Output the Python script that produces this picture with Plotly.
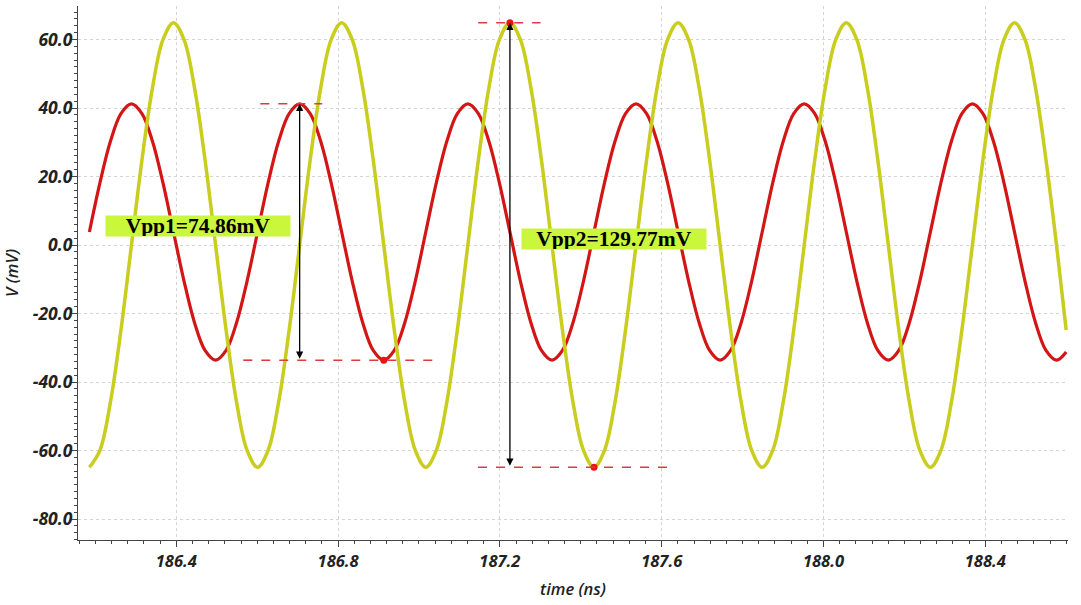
import plotly.graph_objects as go

# ---- data (time in ns, voltage in mV) ----
time_ns = [
    186.1852, 186.2112, 186.2372, 186.2632, 186.2892, 186.3151, 186.3411, 186.3671,
    186.3931, 186.4191, 186.4451, 186.4711, 186.4971, 186.5231, 186.5490, 186.5750,
    186.6010, 186.6270, 186.6530, 186.6790, 186.7050, 186.7310, 186.7570, 186.7829,
    186.8089, 186.8349, 186.8609, 186.8869, 186.9129, 186.9389, 186.9649, 186.9909,
    187.0168, 187.0428, 187.0688, 187.0948, 187.1208, 187.1468, 187.1728, 187.1988,
    187.2248, 187.2507, 187.2767, 187.3027, 187.3287, 187.3547, 187.3807, 187.4067,
    187.4327, 187.4586, 187.4846, 187.5106, 187.5366, 187.5626, 187.5886, 187.6146,
    187.6406, 187.6666, 187.6926, 187.7185, 187.7445, 187.7705, 187.7965, 187.8225,
    187.8485, 187.8745, 187.9005, 187.9264, 187.9524, 187.9784, 188.0044, 188.0304,
    188.0564, 188.0824, 188.1084, 188.1343, 188.1603, 188.1863, 188.2123, 188.2383,
    188.2643, 188.2903, 188.3163, 188.3422, 188.3682, 188.3942, 188.4202, 188.4462,
    188.4722, 188.4982, 188.5242, 188.5501, 188.5761, 188.6000]

v_red = [
    3.8, 18.12, 30.27, 38.38, 41.23, 38.38, 30.27, 18.12, 3.8, -10.52, -22.67, -30.78, -33.63, -30.78, -22.67, -10.52,
    3.8, 18.12, 30.27, 38.38, 41.23, 38.38, 30.27, 18.12, 3.8, -10.52, -22.67, -30.78, -33.63, -30.78, -22.67, -10.52,
    3.8, 18.12, 30.27, 38.38, 41.23, 38.38, 30.27, 18.12, 3.8, -10.52, -22.67, -30.78, -33.63, -30.78, -22.67, -10.52,
    3.8, 18.12, 30.27, 38.38, 41.23, 38.38, 30.27, 18.12, 3.8, -10.52, -22.67, -30.78, -33.63, -30.78, -22.67, -10.52,
    3.8, 18.12, 30.27, 38.38, 41.23, 38.38, 30.27, 18.12, 3.8, -10.52, -22.67, -30.78, -33.63, -30.78, -22.67, -10.52,
    3.8, 18.12, 30.27, 38.38, 41.23, 38.38, 30.27, 18.12, 3.8, -10.52, -22.67, -30.78, -33.63, -31.24]

v_yellow = [
    -64.89, -59.95, -45.88, -24.83, 0.0, 24.83, 45.88, 59.95, 64.89, 59.95, 45.88, 24.83, 0.0, -24.83, -45.88, -59.95,
    -64.89, -59.95, -45.88, -24.83, 0.0, 24.83, 45.88, 59.95, 64.89, 59.95, 45.88, 24.83, 0.0, -24.83, -45.88, -59.95,
    -64.89, -59.95, -45.88, -24.83, 0.0, 24.83, 45.88, 59.95, 64.89, 59.95, 45.88, 24.83, 0.0, -24.83, -45.88, -59.95,
    -64.89, -59.95, -45.88, -24.83, 0.0, 24.83, 45.88, 59.95, 64.89, 59.95, 45.88, 24.83, 0.0, -24.83, -45.88, -59.95,
    -64.89, -59.95, -45.88, -24.83, 0.0, 24.83, 45.88, 59.95, 64.89, 59.95, 45.88, 24.83, 0.0, -24.83, -45.88, -59.95,
    -64.89, -59.95, -45.88, -24.83, 0.0, 24.83, 45.88, 59.95, 64.89, 59.95, 45.88, 24.83, 0.0, -24.83]

# measurement markers
red_peak_t, red_peak_v = 186.7050, 41.23
red_trough_t, red_trough_v = 186.9129, -33.63
yel_peak_t, yel_peak_v = 187.2248, 64.89
yel_trough_t, yel_trough_v = 187.4327, -64.89
label1 = "Vpp1=74.86mV"
label2 = "Vpp2=129.77mV"

x_ticks = [186.4, 186.8, 187.2, 187.6, 188.0, 188.4]
x_ticktext = ["186.4", "186.8", "187.2", "187.6", "188.0", "188.4"]
y_ticks = [60, 40, 20, 0, -20, -40, -60, -80]
y_ticktext = ["60.0", "40.0", "20.0", "0.0", "-20.0", "-40.0", "-60.0", "-80.0"]

RED = "rgb(210,22,22)"
YEL = "rgb(200,205,30)"

fig = go.Figure()
fig.add_trace(go.Scatter(x=time_ns, y=v_red, mode="lines",
                         line=dict(color=RED, width=3.2, shape="spline", smoothing=1.0),
                         showlegend=False, hoverinfo="skip"))
fig.add_trace(go.Scatter(x=time_ns, y=v_yellow, mode="lines",
                         line=dict(color=YEL, width=3.5, shape="spline", smoothing=1.0),
                         showlegend=False, hoverinfo="skip"))

dash_red = dict(color="rgb(222,60,60)", width=1.6, dash="dash")
shapes = [
    dict(type="line", xref="x", yref="y", x0=186.6077, x1=186.7610, y0=red_peak_v, y1=red_peak_v, line=dash_red),
    dict(type="line", xref="x", yref="y", x0=186.5656, x1=187.0537, y0=red_trough_v, y1=red_trough_v, line=dash_red),
    dict(type="line", xref="x", yref="y", x0=187.1464, x1=187.3006, y0=yel_peak_v, y1=yel_peak_v, line=dash_red),
    dict(type="line", xref="x", yref="y", x0=187.1459, x1=187.6336, y0=yel_trough_v, y1=yel_trough_v, line=dash_red),
]

fig.add_trace(go.Scatter(x=[red_trough_t, yel_peak_t, yel_trough_t], y=[red_trough_v, yel_peak_v, yel_trough_v],
                         mode="markers", marker=dict(color="rgb(235,20,20)", size=7),
                         showlegend=False, hoverinfo="skip"))

annotations = [
    dict(x=red_peak_t, y=red_peak_v, ax=red_peak_t, ay=red_trough_v, xref="x", yref="y", axref="x", ayref="y",
         showarrow=True, arrowhead=2, startarrowhead=2, arrowside="end+start", arrowsize=1.1, arrowwidth=1.3,
         arrowcolor="black", text=""),
    dict(x=yel_peak_t, y=yel_peak_v, ax=yel_peak_t, ay=yel_trough_v, xref="x", yref="y", axref="x", ayref="y",
         showarrow=True, arrowhead=2, startarrowhead=2, arrowside="end+start", arrowsize=1.1, arrowwidth=1.3,
         arrowcolor="black", text=""),
    dict(x=186.4536, y=5.55, xref="x", yref="y", text=label1, showarrow=False,
         font=dict(family="Liberation Serif", size=21.5, color="black", weight="bold"),
         bgcolor="rgb(202,246,60)", width=184, height=20, borderpad=0),
    dict(x=187.4826, y=1.84, xref="x", yref="y", text=label2, showarrow=False,
         font=dict(family="Liberation Serif", size=21.5, color="black", weight="bold"),
         bgcolor="rgb(202,246,60)", width=184, height=20, borderpad=0),
]

xtickfont = dict(family="Open Sans", size=16.5, color="#222", style="italic", weight=700)
ytickfont = dict(family="Open Sans", size=17.5, color="#222", style="italic", weight=700)
titlefont = dict(family="Open Sans", size=16.5, color="#222", style="italic", weight=600)

fig.update_layout(
    width=1081, height=605,
    margin=dict(l=78, r=13, t=6, b=65),
    paper_bgcolor="white", plot_bgcolor="white",
    shapes=shapes, annotations=annotations,
    xaxis=dict(range=[186.157, 188.6045], tickvals=x_ticks, ticktext=x_ticktext, tickfont=xtickfont,
               showline=True, linecolor="#444", linewidth=1.2, ticks="outside", ticklen=6, tickcolor="#444",
               showgrid=True, gridcolor="#d4d4d4", griddash="dot", gridwidth=1, zeroline=False,
               minor=dict(dtick=0.04, tick0=186.4, ticks="outside", ticklen=3, tickcolor="#444", showgrid=False),
               title=dict(text="time (ns)", font=titlefont, standoff=12)),
    yaxis=dict(range=[-86.13, 69.78], tickvals=y_ticks, ticktext=y_ticktext, tickfont=ytickfont,
               showline=True, linecolor="#444", linewidth=1.2, ticks="outside", ticklen=6, tickcolor="#444",
               ticklabelstandoff=-5,
               showgrid=True, gridcolor="#d4d4d4", griddash="dot", gridwidth=1, zeroline=False,
               minor=dict(dtick=2, tick0=0, ticks="outside", ticklen=3, tickcolor="#444", showgrid=False),
               title=dict(text="V (mV)", font=titlefont, standoff=13)),
)

fig.write_html("out.html", config={"displayModeBar": False},
               post_script="document.body.style.margin='0';")
